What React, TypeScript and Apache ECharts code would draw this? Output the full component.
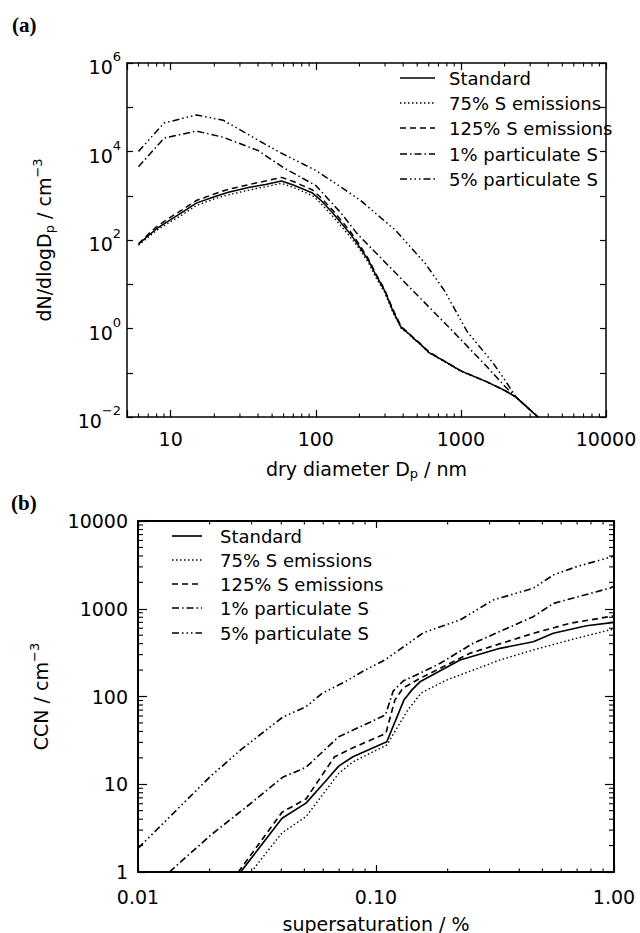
import React, { useEffect, useRef } from 'react';
import * as echarts from 'echarts';

const seriesNames = ['Standard', '75% S emissions', '125% S emissions', '1% particulate S', '5% particulate S'];

// Panel (a): dry diameter Dp (nm) vs dN/dlogDp (cm^-3)
const sizeStandard: number[][] = [
  [6, 80], [7, 125], [8, 180], [10, 290], [12, 420], [15, 680], [20, 950], [25, 1200], [35, 1550], [45, 1800],
  [58, 2150], [70, 1750], [95, 1150], [107, 820], [130, 420], [172, 141], [200, 70], [230, 35], [260, 16],
  [298, 7.2], [340, 2.5], [388, 1.05], [430, 0.8], [472, 0.6], [524, 0.45], [600, 0.29], [800, 0.17],
  [1000, 0.11], [1500, 0.063], [2000, 0.04], [2400, 0.028], [3400, 0.01],
];
const sizeLow: number[][] = [
  [6, 76], [7, 115], [8, 165], [10, 260], [12, 370], [15, 600], [20, 850], [25, 1050], [35, 1350], [45, 1600],
  [58, 1900], [70, 1550], [95, 1000], [107, 700], [130, 350], [172, 120], [200, 62], [230, 31], [260, 14],
  [298, 6.5], [340, 2.3], [388, 1.0], [430, 0.78], [472, 0.58], [524, 0.44], [600, 0.285], [800, 0.165],
  [1000, 0.108], [1500, 0.062], [2000, 0.04], [2400, 0.028], [3400, 0.01],
];
const sizeHigh: number[][] = [
  [6, 82], [7, 135], [8, 200], [10, 330], [12, 480], [15, 780], [20, 1100], [25, 1400], [35, 1800], [45, 2150],
  [58, 2600], [70, 2100], [95, 1350], [107, 950], [130, 480], [172, 160], [200, 78], [230, 38], [260, 17],
  [298, 7.6], [340, 2.7], [388, 1.1], [430, 0.82], [472, 0.62], [524, 0.46], [600, 0.3], [800, 0.17],
  [1000, 0.11], [1500, 0.063], [2000, 0.04], [2400, 0.028], [3400, 0.01],
];
const size1pct: number[][] = [
  [6, 4500], [9, 20000], [15, 29000], [23, 21000], [40, 10500], [60, 4300], [100, 1700], [150, 400],
  [192, 141], [250, 58], [330, 23], [440, 8.7], [600, 3.1], [870, 0.9], [1200, 0.3], [1430, 0.166],
  [1700, 0.09], [2000, 0.05], [2400, 0.028], [3400, 0.01],
];
const size5pct: number[][] = [
  [6, 10000], [9, 44000], [15, 67000], [23, 51000], [40, 18000], [57, 9400], [99, 3800], [150, 1550],
  [202, 800], [280, 320], [353, 168], [450, 69], [570, 29], [770, 7.2], [1100, 0.87], [1665, 0.166],
  [2000, 0.07], [2400, 0.028], [3400, 0.01],
];

// Panel (b): supersaturation (%) vs CCN (cm^-3)
const ccnStandard: number[][] = [
  [0.027, 1], [0.0403, 4.1], [0.0508, 6.1], [0.062, 11.2], [0.0697, 16.1], [0.08, 20.6], [0.111, 30.5],
  [0.131, 91], [0.1416, 119], [0.153, 147], [0.2256, 261], [0.332, 354], [0.458, 421], [0.556, 525],
  [0.767, 641], [1.0, 700],
];
const ccnLow: number[][] = [
  [0.0299, 1], [0.0403, 2.8], [0.0508, 4.27], [0.0697, 13.3], [0.08, 18], [0.111, 28], [0.136, 70],
  [0.155, 110], [0.198, 154], [0.332, 261], [0.458, 339], [0.653, 441], [1.0, 590],
];
const ccnHigh: number[][] = [
  [0.0264, 1], [0.0403, 4.8], [0.0508, 6.8], [0.067, 20.6], [0.08, 26], [0.11, 38], [0.12, 91],
  [0.13, 125], [0.153, 161], [0.248, 311], [0.458, 525], [0.653, 683], [1.0, 830],
];
const ccn1pct: number[][] = [
  [0.01355, 1], [0.0201, 2.6], [0.0292, 5.8], [0.0405, 12], [0.0508, 15.6], [0.0697, 34.8], [0.09, 48],
  [0.1096, 61.5], [0.118, 115], [0.13, 150], [0.153, 184], [0.186, 239], [0.256, 404], [0.458, 812],
  [0.556, 1150], [0.955, 1710], [1.0, 1800],
];
const ccn5pct: number[][] = [
  [0.01, 1.86], [0.0201, 12.2], [0.027, 24.6], [0.0405, 58], [0.0508, 76.6], [0.0595, 109], [0.075, 150],
  [0.09, 200], [0.109, 261], [0.137, 404], [0.158, 533], [0.2256, 745], [0.311, 1260], [0.458, 1710],
  [0.556, 2430], [0.697, 3020], [0.93, 3760], [1.0, 4000],
];

// Axis ranges and minor tick values
const diamRange = [5, 10000];
const dndlogRange = [0.01, 1000000];
const ssRange = [0.01, 1];
const ccnRange = [1, 10000];
const diamMinorTicks = [6, 7, 8, 9, 20, 30, 40, 50, 60, 70, 80, 90, 200, 300, 400, 500, 600, 700, 800, 900,
  2000, 3000, 4000, 5000, 6000, 7000, 8000, 9000];
const ssMinorTicks = [0.02, 0.03, 0.04, 0.05, 0.06, 0.07, 0.08, 0.09, 0.2, 0.3, 0.4, 0.5, 0.6, 0.7, 0.8, 0.9];
const ccnMinorTicks = [2, 3, 4, 5, 6, 7, 8, 9, 20, 30, 40, 50, 60, 70, 80, 90, 200, 300, 400, 500, 600, 700,
  800, 900, 2000, 3000, 4000, 5000, 6000, 7000, 8000, 9000];

const FONT = 'DejaVu Sans';

const lineStyles: any[] = [
  { type: 'solid', width: 1.5 },
  { type: [1.5, 2.5], width: 1.3 },
  { type: [6, 4], width: 1.5 },
  { type: [7, 3, 1.5, 3], width: 1.5 },
  { type: [7, 3, 1.5, 3, 1.5, 3, 1.5, 3], width: 1.5 },
];

const rich = {
  b: { fontSize: 19, fontFamily: FONT, color: '#000', padding: [8, 0, 0, 0] },
  s: { fontSize: 13, fontFamily: FONT, color: '#000', padding: [0, 0, 13, 0] },
  sub: { fontSize: 13, fontFamily: FONT, color: '#000', padding: [10, 0, 0, 0] },
  sup: { fontSize: 13, fontFamily: FONT, color: '#000', padding: [0, 0, 13, 0] },
};

function isPow10(v: number) {
  const e = Math.log10(v);
  return Math.abs(e - Math.round(e)) < 1e-6;
}

function minorTicks(gi: number, dir: 'x' | 'y', values: number[], other: number[], len: number, w: number) {
  return {
    type: 'custom',
    xAxisIndex: gi * 2,
    yAxisIndex: gi * 2,
    silent: true,
    clip: false,
    z: 5,
    data: values.map((v) => (dir === 'x' ? [v, other[0]] : [other[0], v])),
    renderItem: (params: any, api: any) => {
      const style = { stroke: '#000', lineWidth: w };
      if (dir === 'x') {
        const v = api.value(0);
        const a = api.coord([v, other[0]]);
        const b = api.coord([v, other[1]]);
        return {
          type: 'group',
          children: [
            { type: 'line', shape: { x1: a[0], y1: a[1], x2: a[0], y2: a[1] - len }, style },
            { type: 'line', shape: { x1: b[0], y1: b[1], x2: b[0], y2: b[1] + len }, style },
          ],
        };
      }
      const v = api.value(1);
      const a = api.coord([other[0], v]);
      const b = api.coord([other[1], v]);
      return {
        type: 'group',
        children: [
          { type: 'line', shape: { x1: a[0], y1: a[1], x2: a[0] + len, y2: a[1] }, style },
          { type: 'line', shape: { x1: b[0], y1: b[1], x2: b[0] - len, y2: b[1] }, style },
        ],
      };
    },
  };
}

function logAxis(opts: any) {
  const { gridIndex, min, max, position, labels, tickLen, lineWidth, formatter, margin, name, nameGap, nameRotate } = opts;
  return {
    type: 'log',
    logBase: 10,
    gridIndex,
    min,
    max,
    position,
    axisLine: { show: true, onZero: false, lineStyle: { color: '#000', width: lineWidth } },
    axisTick: { show: true, inside: true, length: tickLen, lineStyle: { color: '#000', width: 1.2 } },
    axisLabel: labels
      ? { show: true, formatter, margin, color: '#000', fontFamily: FONT, fontSize: 19, rich, hideOverlap: false }
      : { show: false },
    splitLine: { show: false },
    minorTick: { show: false },
    name: name || '',
    nameLocation: 'middle',
    nameGap: nameGap || 0,
    nameRotate,
    nameTextStyle: { color: '#000', fontFamily: FONT, fontSize: 19, rich },
  };
}

function legendGraphic(x0: number, lineLen: number, textX: number, rowYs: number[], scale: number) {
  const els: any[] = [];
  seriesNames.forEach((name, i) => {
    const y = rowYs[i];
    const ls = lineStyles[i];
    els.push({
      type: 'line',
      shape: { x1: x0, y1: y, x2: x0 + lineLen, y2: y },
      style: {
        stroke: '#000',
        lineWidth: ls.width * scale,
        lineDash: Array.isArray(ls.type) ? ls.type : null,
      },
      silent: true,
    });
    els.push({
      type: 'text',
      x: textX,
      y,
      style: { text: name, font: `18px "${FONT}"`, fill: '#000', verticalAlign: 'middle', align: 'left' },
      silent: true,
    });
  });
  return els;
}

export default function App() {
  const ref = useRef<HTMLDivElement>(null);

  useEffect(() => {
    if (!ref.current) return;
    const chart = echarts.init(ref.current, undefined, { renderer: 'svg' });

    const diamLabel = (v: number) => (isPow10(v) ? String(Math.round(v)) : '');
    const dnLabel = (v: number) => {
      if (!isPow10(v)) return '';
      const e = Math.round(Math.log10(v));
      if (e % 2 !== 0) return '';
      return `{b|10}{s|${e < 0 ? '\u2212' : ''}${Math.abs(e)}}`;
    };
    const ssLabel = (v: number) => (isPow10(v) ? v.toFixed(2) : '');
    const ccnLabel = (v: number) => (isPow10(v) ? String(Math.round(v)) : '');

    const sizeData = [sizeStandard, sizeLow, sizeHigh, size1pct, size5pct];
    const ccnData = [ccnStandard, ccnLow, ccnHigh, ccn1pct, ccn5pct];

    const lineSeries = (gi: number, data: number[][][], widthScale: number) =>
      data.map((d, i) => ({
        type: 'line',
        name: seriesNames[i],
        xAxisIndex: gi * 2,
        yAxisIndex: gi * 2,
        data: d,
        symbol: 'none',
        smooth: false,
        lineStyle: { color: '#000', type: lineStyles[i].type, width: lineStyles[i].width * widthScale },
        z: 3,
      }));

    chart.setOption({
      animation: false,
      backgroundColor: '#fff',
      grid: [
        { left: 127, top: 63, width: 479, height: 354, outerBoundsMode: 'none', containLabel: false },
        { left: 138, top: 521, width: 476, height: 351, outerBoundsMode: 'none', containLabel: false },
      ],
      xAxis: [
        logAxis({ gridIndex: 0, min: diamRange[0], max: diamRange[1], position: 'bottom', labels: true, tickLen: 7,
          lineWidth: 1.5, formatter: diamLabel, margin: 12, name: 'dry diameter D{sub|p} / nm', nameGap: 40 }),
        logAxis({ gridIndex: 0, min: diamRange[0], max: diamRange[1], position: 'top', labels: false, tickLen: 7, lineWidth: 1.5 }),
        logAxis({ gridIndex: 1, min: ssRange[0], max: ssRange[1], position: 'bottom', labels: true, tickLen: 7,
          lineWidth: 2, formatter: ssLabel, margin: 15, name: 'supersaturation / %', nameGap: 42 }),
        logAxis({ gridIndex: 1, min: ssRange[0], max: ssRange[1], position: 'top', labels: false, tickLen: 7, lineWidth: 2 }),
      ],
      yAxis: [
        logAxis({ gridIndex: 0, min: dndlogRange[0], max: dndlogRange[1], position: 'left', labels: true, tickLen: 6,
          lineWidth: 1.5, formatter: dnLabel, margin: 6, name: 'dN/dlogD{sub|p} / cm{sup|\u22123}', nameGap: 70, nameRotate: 90 }),
        logAxis({ gridIndex: 0, min: dndlogRange[0], max: dndlogRange[1], position: 'right', labels: false, tickLen: 6, lineWidth: 1.5 }),
        logAxis({ gridIndex: 1, min: ccnRange[0], max: ccnRange[1], position: 'left', labels: true, tickLen: 9,
          lineWidth: 2, formatter: ccnLabel, margin: 10, name: 'CCN / cm{sup|\u22123}', nameGap: 84, nameRotate: 90 }),
        logAxis({ gridIndex: 1, min: ccnRange[0], max: ccnRange[1], position: 'right', labels: false, tickLen: 9, lineWidth: 2 }),
      ],
      graphic: [
        { type: 'text', left: 12, top: 14, style: { text: '(a)', font: 'bold 21px "Liberation Serif"', fill: '#000' } },
        { type: 'text', left: 11, top: 492, style: { text: '(b)', font: 'bold 21px "Liberation Serif"', fill: '#000' } },
        ...legendGraphic(400, 35, 449, [78, 103, 128, 154, 179], 1),
        ...legendGraphic(172, 30, 220, [536, 560, 584, 608, 633], 1.1),
      ],
      series: [
        ...lineSeries(0, sizeData, 1),
        ...lineSeries(1, ccnData, 1.1),
        minorTicks(0, 'x', diamMinorTicks, dndlogRange, 3.5, 1.1),
        minorTicks(1, 'x', ssMinorTicks, ccnRange, 3.5, 1.1),
        minorTicks(1, 'y', ccnMinorTicks, ssRange, 5, 1.1),
      ],
    });

    return () => chart.dispose();
  }, []);

  return <div ref={ref} style={{ position: 'absolute', left: 0, top: 0, width: 640, height: 933 }} />;
}
